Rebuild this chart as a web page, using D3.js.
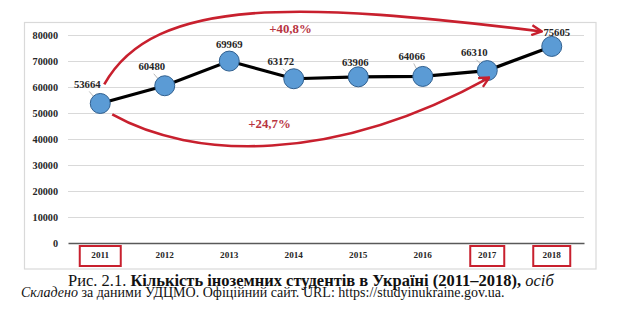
<!DOCTYPE html>
<html>
<head>
<meta charset="utf-8">
<script src="https://cdn.jsdelivr.net/npm/d3@7"></script>
<style>
  html, body { margin: 0; padding: 0; background: #fff; }
  svg { display: block; }
</style>
</head>
<body>
<svg id="chart" width="620" height="322"></svg>
<script>
// ---- data ----
const years = ["2011", "2012", "2013", "2014", "2015", "2016", "2017", "2018"];
const students = [53664, 60480, 69969, 63172, 63906, 64066, 66310, 75605];
const yTicks = [0, 10000, 20000, 30000, 40000, 50000, 60000, 70000, 80000];
const highlightedYears = ["2011", "2017", "2018"];
const growthLabels = ["+40,8%", "+24,7%"];
const captionParts = [
  {t: "Рис. 2.1. ", w: "normal", s: "normal"},
  {t: "Кількість іноземних студентів в Україні (2011–2018), ", w: "bold", s: "normal"},
  {t: "осіб", w: "normal", s: "italic"}
];
const sourceParts = [
  {t: "Складено", w: "normal", s: "italic"},
  {t: " за даними УДЦМО. Офіційний сайт. URL: https://studyinukraine.gov.ua.", w: "normal", s: "normal"}
];

// ---- layout (not data) ----
const SERIF = "'Liberation Serif', 'Times New Roman', serif";
const labelNudge = [[-13,-19],[-13,-19],[0,-17],[-13,-17],[-3,-15],[-11,-20],[-13,-18],[5,-14]];
const showLeader = [true, true, false, true, true, true, true, false];
const boxWidths = {"2011": 41, "2017": 34, "2018": 37};
const RED = "#c8202e";
const TEXTRED = "#b8343f";

const svg = d3.select("#chart");
const x = d3.scaleBand().domain(years).range([68, 584]);
const y = d3.scaleLinear().domain([0, 80000]).range([243, 35]);
const cx = d => x(d) + x.bandwidth() / 2;

// frame
svg.append("rect").attr("x", 24.5).attr("y", 22.5).attr("width", 571.5).attr("height", 246.5)
  .attr("fill", "#fff").attr("stroke", "#d9d9d9").attr("stroke-width", 1.2);

// gridlines
svg.append("g").selectAll("line").data(yTicks.filter(v => v > 0)).join("line")
  .attr("x1", 68).attr("x2", 584)
  .attr("y1", d => Math.round(y(d)) + 0.5).attr("y2", d => Math.round(y(d)) + 0.5)
  .attr("stroke", "#d9d9d9").attr("stroke-width", 1.2);

// y axis labels
const yAxis = svg.append("g").attr("transform", "translate(68,0)")
  .call(d3.axisLeft(y).tickValues(yTicks).tickSize(0).tickPadding(10).tickFormat(d3.format("d")));
yAxis.select(".domain").remove();
yAxis.selectAll("text").style("font-family", SERIF).style("font-weight", "bold")
  .style("font-size", "10.2px").attr("fill", "#262626");

// x axis
const xAxis = svg.append("g").attr("transform", "translate(0,243)")
  .call(d3.axisBottom(x).tickSize(0).tickPadding(8));
xAxis.select(".domain").attr("stroke", "#595959").attr("stroke-width", 1.6);
xAxis.selectAll("text").style("font-family", SERIF).style("font-weight", "bold")
  .style("font-size", "9.2px").attr("fill", "#262626");

// highlight boxes
svg.append("g").selectAll("rect").data(highlightedYears).join("rect")
  .attr("x", d => cx(d) - boxWidths[d] / 2).attr("y", 246)
  .attr("width", d => boxWidths[d]).attr("height", 20)
  .attr("fill", "none").attr("stroke", RED).attr("stroke-width", 2);

// line
const pts = years.map((yr, i) => ({yr, v: students[i], i}));
svg.append("path").datum(pts)
  .attr("d", d3.line().x(d => cx(d.yr)).y(d => y(d.v)))
  .attr("fill", "none").attr("stroke", "#000").attr("stroke-width", 3.2);

// leaders
svg.append("g").selectAll("line").data(pts.filter(d => showLeader[d.i])).join("line")
  .attr("x1", d => cx(d.yr) + labelNudge[d.i][0] + 2)
  .attr("y1", d => y(d.v) + labelNudge[d.i][1] + 7)
  .attr("x2", d => cx(d.yr) - 5)
  .attr("y2", d => y(d.v) - 5)
  .attr("stroke", "#a6a6a6").attr("stroke-width", 0.8);

// circles
svg.append("g").selectAll("circle").data(pts).join("circle")
  .attr("cx", d => cx(d.yr)).attr("cy", d => y(d.v)).attr("r", 10)
  .attr("fill", "#5b9bd5").attr("stroke", "#2f5f8f").attr("stroke-width", 1);

// value labels
svg.append("g").selectAll("text").data(pts).join("text")
  .attr("x", d => cx(d.yr) + labelNudge[d.i][0])
  .attr("y", d => y(d.v) + labelNudge[d.i][1])
  .attr("dy", "0.35em").attr("text-anchor", "middle")
  .style("font-family", SERIF).style("font-weight", "bold").style("font-size", "10.7px")
  .attr("fill", "#262626")
  .text(d => d.v);

// arrows
const defs = svg.append("defs");
defs.append("marker").attr("id", "arr").attr("markerUnits", "userSpaceOnUse")
  .attr("viewBox", "0 0 12 12").attr("refX", 11).attr("refY", 6)
  .attr("markerWidth", 12).attr("markerHeight", 12).attr("orient", "auto")
  .append("path").attr("d", "M1,1 L11,6 L1,11").attr("fill", "none")
  .attr("stroke", RED).attr("stroke-width", 2.4).attr("stroke-linejoin", "miter");

const first = pts[0], p2017 = pts[6], last = pts[7];
// upper arrow: 2011 -> 2018
const s1 = [cx(first.yr) + 4, y(first.v) - 19];
const e1 = [cx(last.yr) - 10, y(last.v) - 15];
const up = d3.path();
up.moveTo(s1[0], s1[1]);
up.bezierCurveTo(s1[0] + 50, s1[1] - 90, s1[0] + 200, s1[1] - 82, e1[0], e1[1]);
svg.append("path").attr("d", up.toString()).attr("fill", "none")
  .attr("stroke", RED).attr("stroke-width", 2.6).attr("marker-end", "url(#arr)");

// lower arrow: 2011 -> 2017
const s2 = [cx(first.yr) + 12, y(first.v) + 11];
const e2 = [cx(p2017.yr) + 2, y(p2017.v) + 7];
const lo = d3.path();
lo.moveTo(s2[0], s2[1]);
lo.bezierCurveTo(s2[0] + 80, s2[1] + 45, s2[0] + 220, s2[1] + 50, e2[0], e2[1]);
svg.append("path").attr("d", lo.toString()).attr("fill", "none")
  .attr("stroke", RED).attr("stroke-width", 2.6).attr("marker-end", "url(#arr)");

// growth labels
svg.append("text").attr("x", 290.5).attr("y", 28.5).attr("dy", "0.35em").attr("text-anchor", "middle")
  .style("font-family", SERIF).style("font-weight", "bold").style("font-size", "12.8px")
  .attr("fill", TEXTRED).text(growthLabels[0]);
svg.append("text").attr("x", 269.5).attr("y", 124).attr("dy", "0.35em").attr("text-anchor", "middle")
  .style("font-family", SERIF).style("font-weight", "bold").style("font-size", "12.8px")
  .attr("fill", TEXTRED).text(growthLabels[1]);

// caption lines, fitted to measured widths
function textLine(parts, xPos, yPos, targetW) {
  const t = svg.append("text").attr("x", xPos).attr("y", yPos)
    .style("font-family", SERIF).style("font-size", "10px").attr("fill", "#111");
  parts.forEach(p => t.append("tspan").style("font-weight", p.w).style("font-style", p.s).text(p.t));
  const w = t.node().getComputedTextLength();
  t.style("font-size", (10 * targetW / w).toFixed(2) + "px");
  return t;
}
textLine(captionParts, 68, 286.4, 486);
textLine(sourceParts, 21, 297, 484);
</script>
</body>
</html>
